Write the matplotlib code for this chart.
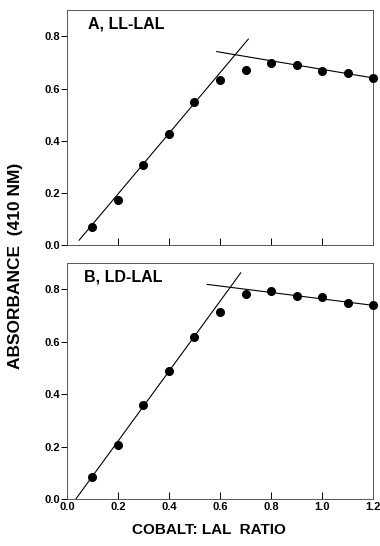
import numpy as np
import matplotlib.pyplot as plt

plt.rcParams['font.family'] = ['Liberation Sans', 'DejaVu Sans']
plt.rcParams['font.weight'] = 'bold'

# cobalt:LAL ratio
ratio = [0.1, 0.2, 0.3, 0.4, 0.5, 0.6, 0.7, 0.8, 0.9, 1.0, 1.1, 1.2]

# A, LL-LAL absorbance
abs_ll = [0.07, 0.172, 0.308, 0.427, 0.55, 0.635, 0.672, 0.697, 0.691, 0.669, 0.659, 0.641]
fit_ll_rise_x = [0.048, 0.711]
fit_ll_rise_y = [0.019, 0.79]
fit_ll_flat_x = [0.587, 1.2]
fit_ll_flat_y = [0.742, 0.641]

# B, LD-LAL absorbance
abs_ld = [0.085, 0.205, 0.357, 0.49, 0.619, 0.714, 0.781, 0.793, 0.775, 0.771, 0.749, 0.739]
fit_ld_rise_x = [0.035, 0.681]
fit_ld_rise_y = [0.0, 0.863]
fit_ld_flat_x = [0.55, 1.2]
fit_ld_flat_y = [0.819, 0.739]

xticks = [0.0, 0.2, 0.4, 0.6, 0.8, 1.0, 1.2]
yticks = [0.0, 0.2, 0.4, 0.6, 0.8]

fig = plt.figure(figsize=(3.8, 5.46), dpi=100)
ax_a = fig.add_axes([0.176, 0.551, 0.806, 0.430])
ax_b = fig.add_axes([0.176, 0.086, 0.806, 0.432])

panels = [
    (ax_a, abs_ll, fit_ll_rise_x, fit_ll_rise_y, fit_ll_flat_x, fit_ll_flat_y, 'A, LL-LAL', 0.07),
    (ax_b, abs_ld, fit_ld_rise_x, fit_ld_rise_y, fit_ld_flat_x, fit_ld_flat_y, 'B, LD-LAL', 0.055),
]

for ax, y, rx, ry, fx, fy, label, lx in panels:
    ax.plot(ratio, y, 'o', color='black', markersize=5.5, clip_on=False, zorder=3)
    ax.plot(rx, ry, color='black', lw=0.8)
    ax.plot(fx, fy, color='black', lw=0.8)
    ax.set_xlim(0, 1.2)
    ax.set_ylim(0, 0.9)
    ax.set_xticks(xticks)
    ax.set_yticks(yticks)
    ax.set_yticklabels([f'{t:.1f}' for t in yticks], fontsize=8, fontweight='bold')
    ax.tick_params(axis='x', direction='in', length=5, width=0.7)
    ax.tick_params(axis='y', direction='out', length=4, width=0.7, pad=1)
    for s in ax.spines.values():
        s.set_linewidth(0.7)
        s.set_color('#555555')
    ax.text(lx, 0.975, label, transform=ax.transAxes, ha='left', va='top',
            fontsize=11.5, fontweight='bold')

ax_a.set_xticklabels([])
ax_b.set_xticklabels([f'{t:.1f}' for t in xticks], fontsize=8, fontweight='bold')
ax_b.tick_params(axis='x', pad=2)

fig.text(0.042, 0.513, 'ABSORBANCE  (410 NM)', rotation=90, ha='center', va='center',
         fontsize=12.5, fontweight='bold')
fig.text(0.55, 0.03, 'COBALT: LAL  RATIO', ha='center', va='center',
         fontsize=11, fontweight='bold')

fig.savefig('out.png', dpi=100)
